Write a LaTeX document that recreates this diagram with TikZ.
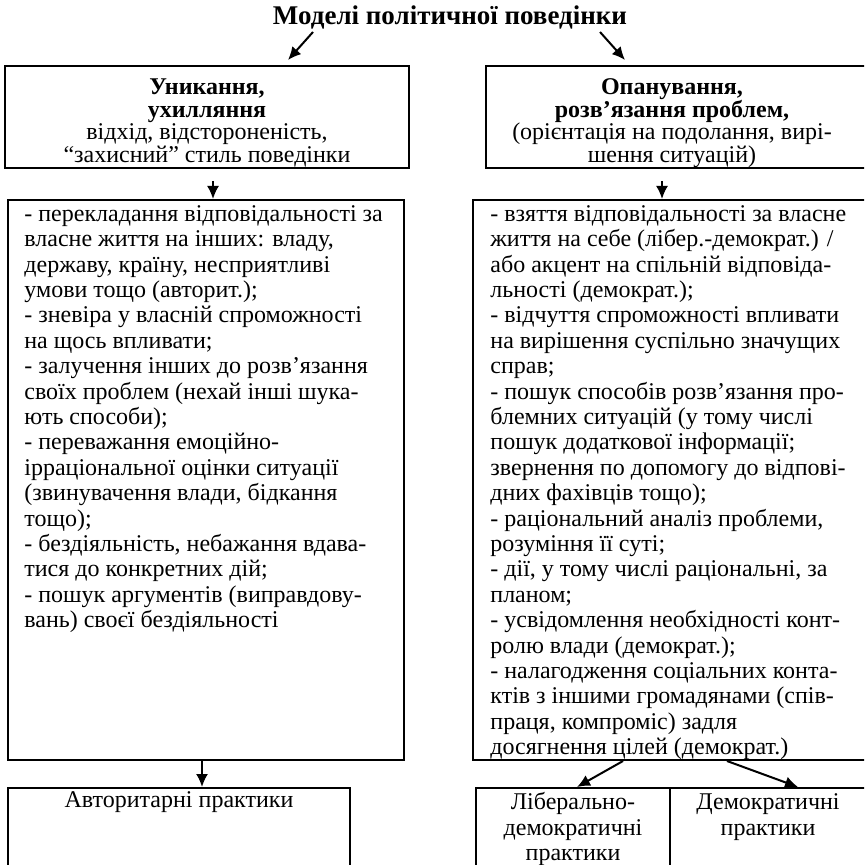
\documentclass[tikz,border=0pt]{standalone}
\usepackage{fontspec}
\setmainfont{Liberation Serif}
\usetikzlibrary{arrows.meta,calc}

\tikzset{
  frame/.style={draw, line width=1pt, inner sep=0pt},
  head/.style={align=center, inner sep=0pt, font=\fontsize{12}{11.3}\selectfont},
  listtext/.style={align=left, anchor=north west, inner sep=0pt, font=\fontsize{12}{12.7}\selectfont},
  arr/.style={-{Latex[length=6.5pt,width=6pt]}, line width=1pt}
}

\begin{document}
\begin{tikzpicture}[x=0.5pt,y=-0.5pt]

\useasboundingbox (0,0) rectangle (864,865);
\clip (0,0) rectangle (864,865);

\node[inner sep=0pt, font=\fontsize{13.5}{15}\selectfont\bfseries] (title) at (450,17) {Моделі політичної поведінки};

% top boxes
\node[frame, minimum width=202pt, minimum height=51pt] (avoid) at (207,117) {};
\node[frame, minimum width=190pt, minimum height=51pt] (cope) at (676,117) {};

\node[head] (avoidtext) at (207,123) {\textbf{Уникання,}\\\textbf{ухилляння}\\відхід, відстороненість,\\“захисний” стиль поведінки};
\node[head] (copetext) at (672,123) {\textbf{Опанування,}\\\textbf{розв’язання проблем,}\\(орієнтація на подолання, вирі-\\шення ситуацій)};

\draw[arr] ($(title)+(-137,15)$) -- ($(avoid.north)+(81,-5)$);
\draw[arr] ($(title)+(150,15)$) -- ($(cope.north)+(-51,-5)$);

% lists
\node[frame, minimum width=198pt, minimum height=280pt] (avoidlist) at (206,480) {};
\node[frame, minimum width=196.5pt, minimum height=280pt] (copelist) at (669.5,480) {};

\node[listtext] (avoidlisttext) at (24,205) {- перекладання відповідальності за\\
власне життя на інших: владу,\\
державу, країну, несприятливі\\
умови тощо (авторит.);\\
- зневіра у власній спроможності\\
на щось впливати;\\
- залучення інших до розв’язання\\
своїх проблем (нехай інші шука-\\
ють способи);\\
- переважання емоційно-\\
ірраціональної оцінки ситуації\\
(звинувачення влади, бідкання\\
тощо);\\
- бездіяльність, небажання вдава-\\
тися до конкретних дій;\\
- пошук аргументів (виправдову-\\
вань) своєї бездіяльності};

\node[listtext] (copelisttext) at (490,205) {- взяття відповідальності за власне\\
життя на себе (лібер.-демократ.) /\\
або акцент на спільній відповіда-\\
льності (демократ.);\\
- відчуття спроможності впливати\\
на вирішення суспільно значущих\\
справ;\\
- пошук способів розв’язання про-\\
блемних ситуацій (у тому числі\\
пошук додаткової інформації;\\
звернення по допомогу до відпові-\\
дних фахівців тощо);\\
- раціональний аналіз проблеми,\\
розуміння її суті;\\
- дії, у тому числі раціональні, за\\
планом;\\
- усвідомлення необхідності конт-\\
ролю влади (демократ.);\\
- налагодження соціальних конта-\\
ктів з іншими громадянами (спів-\\
праця, компроміс) задля\\
досягнення цілей (демократ.)};

\draw[arr] ($(avoid.south)+(6,12)$) -- ($(avoidlist.north)+(7,0)$);
\draw[arr] ($(cope.south)+(-14,12)$) -- ($(copelist.north)+(-7.5,0)$);

% practices
\node[frame, minimum width=171pt, minimum height=56pt] (auth) at (179,844) {};
\node[frame, minimum width=97pt, minimum height=56pt] (lib) at (573,844) {};
\node[frame, minimum width=98pt, minimum height=56pt] (dem) at (768,844) {};

\node[head, font=\fontsize{12}{12.7}\selectfont] (authtext) at (179,802) {Авторитарні практики};
\node[head, font=\fontsize{12}{12.7}\selectfont] (libtext) at (573,829) {Ліберально-\\демократичні\\практики};
\node[head, font=\fontsize{12}{12.7}\selectfont] (demtext) at (768,817) {Демократичні\\практики};

\draw[arr] ($(avoidlist.south)+(-4,0)$) -- ($(auth.north)+(23,0)$);
\draw[arr] ($(copelist.south)+(-46.5,0)$) -- ($(lib.north)+(4,0)$);
\draw[arr] ($(copelist.south)+(57.5,0)$) -- ($(dem.north)+(30,0)$);

\end{tikzpicture}
\end{document}
